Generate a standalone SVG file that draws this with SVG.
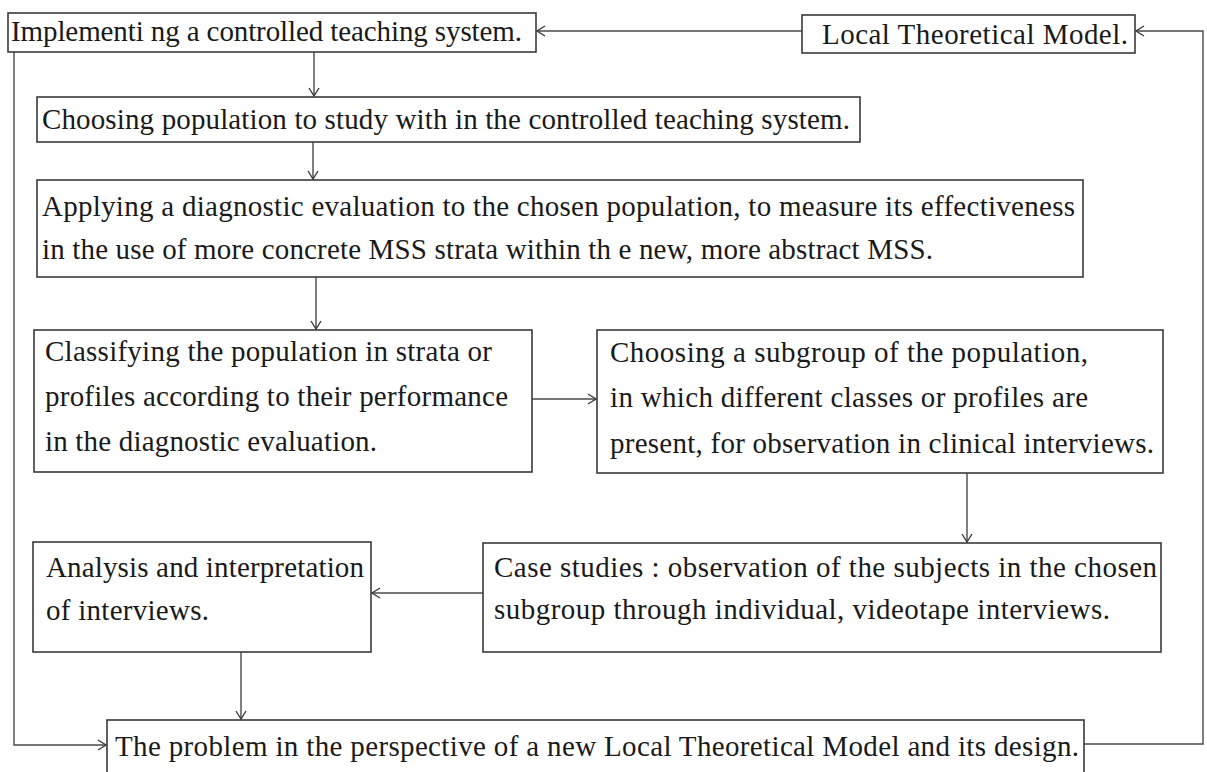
<svg xmlns="http://www.w3.org/2000/svg" width="1207" height="772" viewBox="0 0 1207 772">
<defs>
<style>
.box{fill:#fff;stroke:#3a3a3a;stroke-width:1.6}
.t{font-family:"Liberation Serif","Times New Roman",serif;font-size:29px;fill:#1a1a1a}
.c{fill:none;stroke:#4a4a4a;stroke-width:1.4}
</style>
<marker id="ah" markerUnits="userSpaceOnUse" markerWidth="14" markerHeight="14" refX="9" refY="6" orient="auto">
<path d="M1,1 L9,6 L1,11" fill="none" stroke="#3a3a3a" stroke-width="1.4"/>
</marker>
</defs>
<rect width="1207" height="772" fill="#fff"/>
<g id="connectors">
<path class="c" d="M802,31 H537" marker-end="url(#ah)"/>
<path class="c" d="M1084,744 H1203 V31 H1136" marker-end="url(#ah)"/>
<path class="c" d="M14,52 V745 H106" marker-end="url(#ah)"/>
<path class="c" d="M314,52 V96" marker-end="url(#ah)"/>
<path class="c" d="M313,142 V179" marker-end="url(#ah)"/>
<path class="c" d="M316,277 V329" marker-end="url(#ah)"/>
<path class="c" d="M532,399 H596" marker-end="url(#ah)"/>
<path class="c" d="M967,473 V542" marker-end="url(#ah)"/>
<path class="c" d="M483,593 H372" marker-end="url(#ah)"/>
<path class="c" d="M241,652 V719" marker-end="url(#ah)"/>
</g>
<g id="n1">
<rect class="box" x="8" y="13" width="528" height="39"/>
<text class="t" x="11" y="41" textLength="511" lengthAdjust="spacing">Implementi ng a controlled teaching system.</text>
</g>
<g id="n0">
<rect class="box" x="802" y="15" width="333" height="38"/>
<text class="t" x="822" y="44" textLength="306" lengthAdjust="spacing">Local Theoretical Model.</text>
</g>
<g id="n2">
<rect class="box" x="37" y="97" width="823" height="45"/>
<text class="t" x="42" y="129" textLength="808" lengthAdjust="spacing">Choosing population to study with in the controlled teaching system.</text>
</g>
<g id="n3">
<rect class="box" x="37" y="180" width="1046" height="97"/>
<text class="t" x="42" y="216" textLength="1033" lengthAdjust="spacing">Applying a diagnostic evaluation to the chosen population, to measure its effectiveness</text>
<text class="t" x="42" y="259" textLength="891" lengthAdjust="spacing">in the use of more concrete MSS strata within th e new, more abstract MSS.</text>
</g>
<g id="n4">
<rect class="box" x="34" y="330" width="498" height="142"/>
<text class="t" x="45" y="361" textLength="447" lengthAdjust="spacing">Classifying the population in strata or</text>
<text class="t" x="45" y="406" textLength="463" lengthAdjust="spacing">profiles according to their performance</text>
<text class="t" x="45" y="451" textLength="332" lengthAdjust="spacing">in the diagnostic evaluation.</text>
</g>
<g id="n5">
<rect class="box" x="597" y="330" width="566" height="143"/>
<text class="t" x="610" y="362" textLength="478" lengthAdjust="spacing">Choosing a subgroup of the population,</text>
<text class="t" x="610" y="407" textLength="478" lengthAdjust="spacing">in which different classes or profiles are</text>
<text class="t" x="610" y="453" textLength="544" lengthAdjust="spacing">present, for observation in clinical interviews.</text>
</g>
<g id="n6">
<rect class="box" x="483" y="543" width="678" height="109"/>
<text class="t" x="494" y="577" textLength="663" lengthAdjust="spacing">Case studies : observation of the subjects in the chosen</text>
<text class="t" x="494" y="619" textLength="616" lengthAdjust="spacing">subgroup through individual, videotape interviews.</text>
</g>
<g id="n7">
<rect class="box" x="33" y="542" width="338" height="110"/>
<text class="t" x="46" y="577" textLength="318" lengthAdjust="spacing">Analysis and interpretation</text>
<text class="t" x="46" y="620" textLength="163" lengthAdjust="spacing">of interviews.</text>
</g>
<g id="n8">
<rect class="box" x="107" y="720" width="977" height="80"/>
<text class="t" x="115" y="756" textLength="964" lengthAdjust="spacing">The problem in the perspective of a new Local Theoretical Model and its design.</text>
</g>
</svg>
